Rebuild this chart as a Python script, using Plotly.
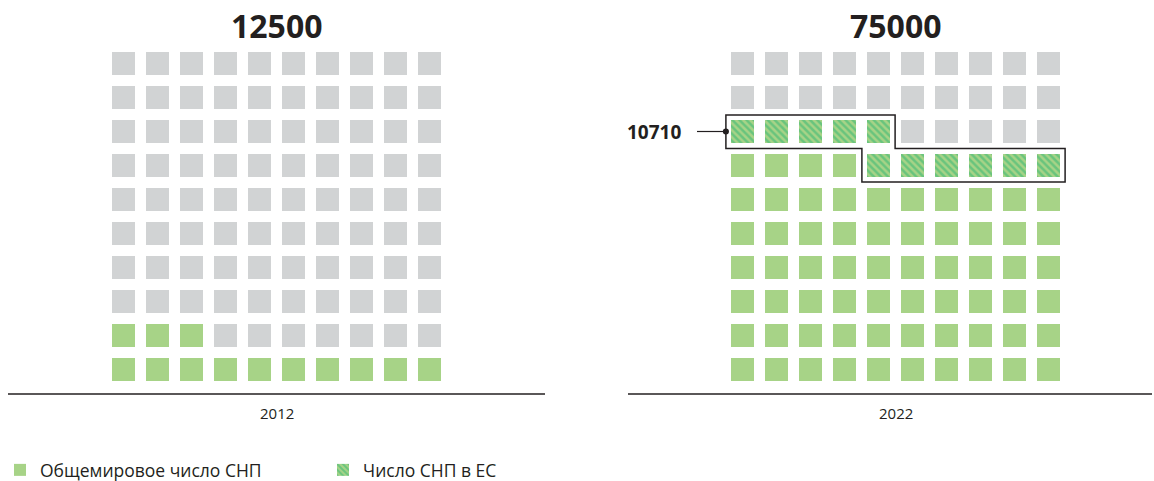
import plotly.graph_objects as go

# ---- data (1 square = 1000 СНП) ----
years = ["2012", "2022"]
total_labels = ["12500", "75000"]
world_squares = [13, 75]      # filled squares, world total
eu_squares = [0, 11]          # of which in the EU (hatched)
eu_label = "10710"
legend_names = ["Общемировое число СНП", "Число СНП в ЕС"]
grid_cols = 10
grid_rows = 10

# ---- style ----
GRAY = "#d1d3d4"
GREEN = "#a7d387"
STRIPE = "#2bb673"
DARK = "#231f20"
FONT = "Open Sans"
W, H = 1154, 481
SQ = 23 / 34          # square size in grid units (pitch = 1 unit)
HALF = SQ / 2

fig = go.Figure()

axes = ["x", "x2"]
for p, ax in enumerate(axes):
    groups = {"gray": ([], []), "green": ([], []), "hatch": ([], [])}
    n_green = world_squares[p] - eu_squares[p]
    for k in range(grid_cols * grid_rows):
        row, col = divmod(k, grid_cols)
        if k < n_green:
            key = "green"
        elif k < world_squares[p]:
            key = "hatch"
        else:
            key = "gray"
        groups[key][0].append(col)
        groups[key][1].append(row - HALF)
    for key, (xs, bases) in groups.items():
        if not xs:
            continue
        marker = dict(line=dict(width=0))
        if key == "gray":
            marker["color"] = GRAY
        elif key == "green":
            marker["color"] = GREEN
        else:
            marker["color"] = GREEN
            marker["pattern"] = dict(shape="\\", fgcolor=STRIPE, bgcolor=GREEN,
                                     fillmode="overlay", size=5, solidity=0.5)
        name = {"gray": "", "green": legend_names[0], "hatch": legend_names[1]}[key]
        show = (key == "green" and p == 0) or (key == "hatch")
        fig.add_trace(go.Bar(
            x=xs, y=[SQ] * len(xs), base=bases, width=SQ,
            xaxis=ax, yaxis="y", marker=marker, name=name,
            showlegend=show, hoverinfo="skip",
        ))

# pixel mapping helpers (pitch 34px)
def xr(center_px, lo_px, hi_px):
    return [(lo_px - center_px) / 34, (hi_px - center_px) / 34]

y_range = [(369.5 - H) / 34, (369.5 - 0) / 34]

fig.update_layout(
    width=W, height=H,
    margin=dict(l=0, r=0, t=0, b=0, autoexpand=False),
    paper_bgcolor="white", plot_bgcolor="white",
    barmode="overlay",
    font=dict(family=FONT, color=DARK),
    xaxis=dict(domain=[0, 0.5], range=xr(123.5, 0, 577), visible=False, fixedrange=True),
    xaxis2=dict(domain=[0.5, 1], range=xr(742.5, 577, 1154), visible=False, fixedrange=True),
    yaxis=dict(domain=[0, 1], range=y_range, visible=False, fixedrange=True),
    showlegend=True,
    legend=dict(orientation="h", x=0, y=(H - 470) / H, xanchor="left", yanchor="middle",
                font=dict(size=17.5, family=FONT, color=DARK),
                entrywidth=278, entrywidthmode="pixels",
                bgcolor="rgba(0,0,0,0)", itemclick=False, itemdoubleclick=False),
)

mid = (grid_cols - 1) / 2
shapes = []
annotations = []
baseline_px = [(8, 545), (628, 1152)]
for p, ax in enumerate(axes):
    annotations.append(dict(x=mid, y=10.13, xref=ax, yref="y", text=f"<b>{total_labels[p]}</b>",
                            showarrow=False, font=dict(size=32, family=FONT, color=DARK)))
    annotations.append(dict(x=mid, y=-1.28, xref=ax, yref="y", text=years[p],
                            showarrow=False, font=dict(size=15, family=FONT, color=DARK)))
    shapes.append(dict(type="line", xref="paper", yref="y",
                       x0=baseline_px[p][0] / W, x1=baseline_px[p][1] / W, y0=-0.72, y1=-0.72,
                       line=dict(color=DARK, width=1.5)))

# outline around EU squares (2022)
pad = 0.15
start = world_squares[1] - eu_squares[1]
end = world_squares[1] - 1
r0, c0 = divmod(start, grid_cols)
r1, c1 = divmod(end, grid_cols)
xl = 0 - HALF - pad
xr_ = grid_cols - 1 + HALF + pad
top = r1 + HALF + pad
midy = r0 + 0.5
bot = r0 - HALF - pad
xc1 = c1 + HALF + pad
xc0 = c0 - HALF - pad
path = (f"M {xl},{top} L {xc1},{top} L {xc1},{midy} L {xr_},{midy} L {xr_},{bot} "
        f"L {xc0},{bot} L {xc0},{midy} L {xl},{midy} Z")
shapes.append(dict(type="path", xref="x2", yref="y", path=path,
                   line=dict(color=DARK, width=1.5), fillcolor="rgba(0,0,0,0)"))
# leader line + dot
shapes.append(dict(type="line", xref="x2", yref="y", x0=xl - 0.85, x1=xl, y0=r1, y1=r1,
                   line=dict(color=DARK, width=1.2)))
shapes.append(dict(type="circle", xref="x2", yref="y", x0=xl - 0.09, x1=xl + 0.09,
                   y0=r1 - 0.09, y1=r1 + 0.09, fillcolor=DARK, line=dict(width=0)))
annotations.append(dict(x=xl - 1.25, y=r1, xref="x2", yref="y", xanchor="right",
                        text=f"<b>{eu_label}</b>", showarrow=False,
                        font=dict(size=19, family=FONT, color=DARK)))

fig.update_layout(shapes=shapes, annotations=annotations)

fig.write_html("out.html", config={"displayModeBar": False},
               post_script="document.body.style.margin='0';")
